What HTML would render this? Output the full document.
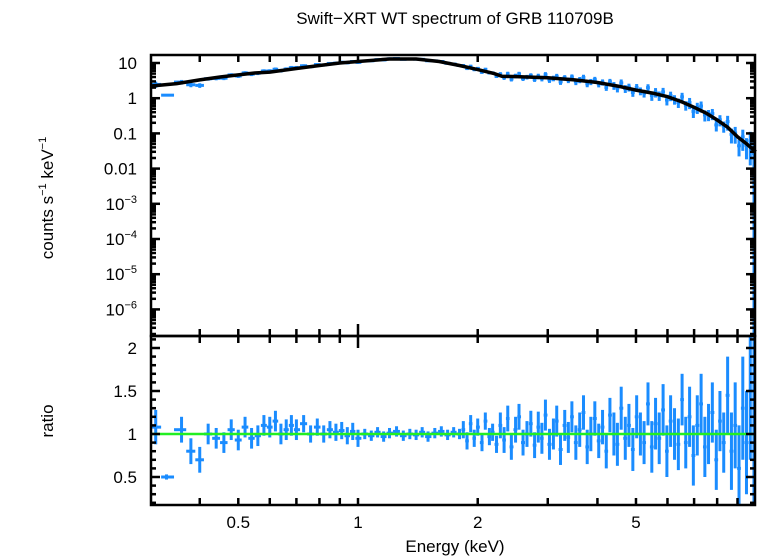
<!DOCTYPE html>
<html><head><meta charset="utf-8"><style>
html,body{margin:0;padding:0;background:#fff;}
svg{display:block;font-family:"Liberation Sans",sans-serif;}
</style></head><body>
<svg id="chart" width="758" height="556" viewBox="0 0 758 556" xmlns="http://www.w3.org/2000/svg">
<text x="455" y="24" font-size="17" text-anchor="middle">Swift−XRT WT spectrum of GRB 110709B</text>
<text transform="translate(53,198) rotate(-90)" font-size="17" text-anchor="middle">counts s<tspan font-size="11" dy="-7">−1</tspan><tspan dy="7"> keV</tspan><tspan font-size="11" dy="-7">−1</tspan></text>
<text transform="translate(53,421) rotate(-90)" font-size="17" text-anchor="middle">ratio</text>
<text x="455" y="552" font-size="17" text-anchor="middle">Energy (keV)</text>
<g id="marks"></g>
<g id="axes"></g>
</svg>
<script>
const modelE=[0.3,0.35,0.4,0.45,0.5,0.55,0.6,0.7,0.8,0.9,1.0,1.2,1.4,1.6,1.8,2.0,2.2,2.3,2.5,3,3.5,4,4.5,5,5.5,6,6.5,7,7.5,8,8.5,9,9.5,10];
const modelV=[2.2,2.6,3.3,4.0,4.6,5.2,5.5,7,8.5,10,11,13,13,11,8.5,6.5,5,4.2,4.1,3.8,3.3,2.8,2.2,1.7,1.4,1.1,0.8,0.55,0.38,0.24,0.15,0.08,0.05,0.03];
const binE=[0.31,0.33,0.36,0.38,0.40,0.42,0.44,0.46,0.48,0.50,
0.52,0.54,0.56,0.58,0.60,0.62,0.64,0.66,0.68,0.70,
0.73,0.76,0.79,0.82,0.85,0.88,0.91,0.94,0.97,1.00,
1.04,1.08,1.12,1.16,1.20,1.25,1.30,1.35,1.40,1.45,
1.50,1.56,1.62,1.68,1.74,1.80,
1.84,1.88,1.92,1.96,2.00,2.05,2.09,2.14,2.18,2.23,
2.28,2.33,2.38,2.43,2.49,2.54,2.60,2.66,2.72,2.78,
2.84,2.90,2.96,3.03,3.10,3.16,3.23,3.31,3.38,3.45,
3.53,3.61,3.69,3.77,3.85,3.94,4.03,4.12,4.21,4.30,
4.40,4.49,4.59,4.70,4.80,4.91,5.02,5.13,5.24,5.36,
5.48,5.60,5.72,5.85,5.98,6.11,6.25,6.39,6.53,6.67,
6.82,6.97,7.13,7.29,7.45,7.61,7.78,7.96,8.13,8.31,
8.50,8.69,8.88,9.08,9.28,9.48,9.69,9.90];
const ratio=[1.08,0.5,1.05,0.8,0.7,1.0,0.95,0.9,1.05,0.93,
1.08,0.95,0.98,1.1,1.08,1.15,1.0,1.05,1.1,1.05,
1.12,1.0,1.08,1.0,1.05,1.02,1.04,0.98,1.03,0.95,
1.0,0.98,1.02,0.97,1.01,1.03,0.98,1.0,0.99,1.02,
0.97,1.01,1.03,0.99,1.02,1.0,
1.05,0.92,1.12,0.95,1.08,0.9,1.15,0.97,1.02,0.88,
1.1,0.93,1.18,0.85,1.05,1.2,0.9,1.0,1.12,0.87,
1.08,0.95,1.22,0.88,1.0,1.15,0.82,1.1,0.96,1.2,
0.9,1.05,1.25,0.85,1.0,1.18,0.92,1.08,0.8,1.22,
1.0,0.88,1.3,0.95,1.1,0.82,1.2,1.0,0.9,1.35,
0.85,1.12,0.95,1.28,0.8,1.15,1.0,0.88,1.4,0.9,
1.2,0.75,1.1,1.35,0.85,1.0,1.25,0.7,1.15,0.9,
1.45,0.8,1.1,0.6,1.3,0.9,1.5,0.8];
const ratioErr=[0.2,0.03,0.15,0.15,0.15,0.12,0.12,0.12,0.12,0.12,
0.12,0.12,0.12,0.12,0.12,0.12,0.12,0.12,0.12,0.12,
0.1,0.1,0.1,0.1,0.1,0.1,0.1,0.1,0.1,0.1,
0.06,0.06,0.06,0.06,0.06,0.06,0.06,0.06,0.06,0.06,
0.06,0.06,0.06,0.06,0.06,0.06,
0.1,0.1,0.1,0.1,0.1,0.1,0.1,0.1,0.1,0.1,
0.15,0.15,0.15,0.15,0.15,0.15,0.15,0.15,0.15,0.15,
0.18,0.18,0.18,0.18,0.18,0.18,0.18,0.18,0.18,0.18,
0.2,0.2,0.2,0.2,0.2,0.2,0.2,0.2,0.2,0.2,
0.25,0.25,0.25,0.25,0.25,0.25,0.25,0.25,0.25,0.25,
0.3,0.3,0.3,0.3,0.3,0.3,0.3,0.3,0.3,0.3,
0.35,0.35,0.35,0.35,0.35,0.35,0.35,0.35,0.35,0.35,
0.45,0.45,0.5,0.5,0.6,0.6,0.8,0.9];
const topTicks=["10","1","0.1","0.01","10|−3","10|−4","10|−5","10|−6"];
const ratioTicks=[2,1.5,1,0.5];
const xTickLabels=[0.5,1,2,5];

const NS="http://www.w3.org/2000/svg";
const L=151,R=755,T=55,MID=336,B=505;
const xS=e=>358+Math.log10(e)*397.7;
const yTop=v=>63+(1-Math.log10(v))*35.2;
const yBot=r=>434-(r-1)*86;
const clamp=(v,a,b)=>Math.max(a,Math.min(b,v));
function mk(tag,attrs,parent){const el=document.createElementNS(NS,tag);for(const k in attrs)el.setAttribute(k,attrs[k]);parent.appendChild(el);return el;}
function modelAt(e){for(let i=0;i<modelE.length-1;i++){if(e<=modelE[i+1]){const t=(Math.log(e)-Math.log(modelE[i]))/(Math.log(modelE[i+1])-Math.log(modelE[i]));return Math.exp(Math.log(modelV[i])+t*(Math.log(modelV[i+1])-Math.log(modelV[i])));}}return modelV[modelV.length-1];}
const marks=document.getElementById('marks'),axes=document.getElementById('axes');
const blue="#1a8cff";
const n=Math.min(binE.length,ratio.length,ratioErr.length);
for(let i=0;i<n;i++){
  const e=binE[i];
  const lo=i>0?Math.sqrt(binE[i-1]*e):e*0.97, hi=i<n-1?Math.sqrt(binE[i+1]*e):Math.min(e*1.02,10);
  const x=xS(e),x1=xS(lo),x2=xS(hi);
  const m=modelAt(e),d=m*ratio[i],er=ratioErr[i];
  const g=mk('g',{},marks);
  
  
  const yt1=clamp(yTop(d*(1+er)),T,MID),yt2=clamp(yTop(Math.max(d*(1-er),1e-9)),T,MID),yd=yTop(d);
  mk('line',{x1:x,x2:x,y1:yt1,y2:yt2,stroke:blue,'stroke-width':3},g);
  mk('line',{x1:x1,x2:x2,y1:yd,y2:yd,stroke:blue,'stroke-width':3},g);
  const yb1=clamp(yBot(ratio[i]+er),MID,B),yb2=clamp(yBot(ratio[i]-er),MID,B),yr=yBot(ratio[i]);
  mk('line',{x1:x,x2:x,y1:yb1,y2:yb2,stroke:blue,'stroke-width':3},g);
  mk('line',{x1:x1,x2:x2,y1:yr,y2:yr,stroke:blue,'stroke-width':3},g);
}
const edge=mk('line',{x1:R-1,x2:R-1,y1:yTop(0.06),y2:MID,stroke:blue,'stroke-width':3},marks);


const edge2=mk('line',{x1:R-1,x2:R-1,y1:MID,y2:B,stroke:blue,'stroke-width':3},marks);


let pts=[];for(let i=0;i<modelE.length;i++)pts.push(xS(modelE[i]).toFixed(1)+","+yTop(modelV[i]).toFixed(1));
const ml=mk('polyline',{points:pts.join(' '),fill:'none',stroke:'#000','stroke-width':3.5},marks);


const gl=mk('line',{x1:L,x2:R,y1:yBot(1),y2:yBot(1),stroke:'#22ee22','stroke-width':2.5},marks);


const f1=mk('rect',{x:L,y:T,width:R-L,height:MID-T,fill:'none',stroke:'#000','stroke-width':2.5},axes);


const f2=mk('rect',{x:L,y:MID,width:R-L,height:B-MID,fill:'none',stroke:'#000','stroke-width':2.5},axes);


const xt=[0.4,0.5,0.6,0.7,0.8,0.9,1,2,3,4,5,6,7,8,9];
xt.forEach(v=>{const x=xS(v);
  [[T,1],[MID,1],[MID,-1],[B,-1]].forEach(([y,s])=>mk('line',{x1:x,x2:x,y1:y,y2:y+s*(v===1&&y===MID?12:7),stroke:'#000','stroke-width':2.5},axes));});
xTickLabels.forEach(v=>{const t=mk('text',{x:xS(v),y:528,'font-size':17,'text-anchor':'middle'},axes);t.textContent=String(v);
  
  });
for(let d=2;d>=-7;d--){for(let k=1;k<10;k++){const v=k*Math.pow(10,d);const y=yTop(v);if(y<T||y>MID)continue;const len=k===1?9:5;
  mk('line',{x1:L,x2:L+len,y1:y,y2:y,stroke:'#000','stroke-width':2.5},axes);
  mk('line',{x1:R,x2:R-len,y1:y,y2:y,stroke:'#000','stroke-width':2.5},axes);}}
topTicks.forEach((lab,i)=>{const y=63+i*35.2+6;const t=mk('text',{x:137,y:y,'font-size':17,'text-anchor':'end'},axes);
  
  
  const p=lab.split('|');if(p.length===1)t.textContent=p[0];else{t.textContent=p[0];const s=document.createElementNS(NS,'tspan');s.setAttribute('font-size','11');s.setAttribute('dy','-7');s.textContent=p[1];t.appendChild(s);}});
for(let r=0.2;r<=2.15;r+=0.1){const y=yBot(r);const major=Math.abs(r*2-Math.round(r*2))<0.01;const len=major?9:5;
  mk('line',{x1:L,x2:L+len,y1:y,y2:y,stroke:'#000','stroke-width':2.5},axes);
  mk('line',{x1:R,x2:R-len,y1:y,y2:y,stroke:'#000','stroke-width':2.5},axes);}
ratioTicks.forEach(r=>{const t=mk('text',{x:137,y:yBot(r)+6,'font-size':17,'text-anchor':'end'},axes);t.textContent=String(r);
  
  });
</script>
</body></html>
